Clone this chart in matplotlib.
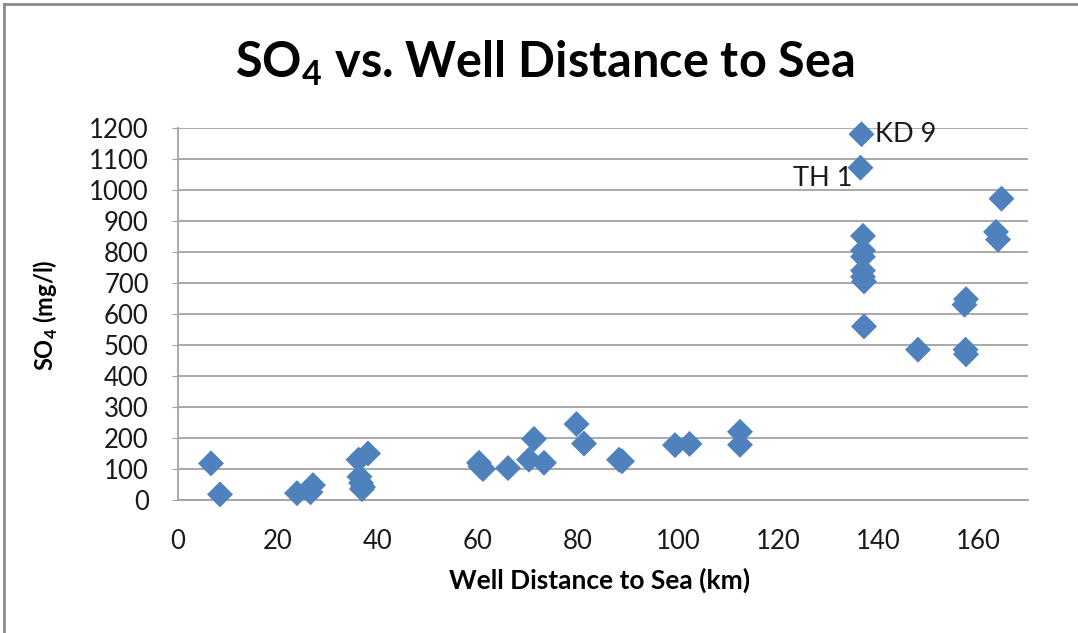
import matplotlib
matplotlib.use('Agg')
import matplotlib.pyplot as plt
from matplotlib.lines import Line2D

# well distance to sea (km) and sulfate concentration (mg/l)
distance_km = [6.6, 8.4, 23.8, 26.5, 27.0, 36.1, 38.0, 36.3, 36.6, 37.0, 36.8,
               60.2, 60.5, 61.0, 66.0, 70.2, 71.2, 73.2, 79.7, 81.2, 88.2, 88.8,
               99.4, 102.3, 112.4, 112.4,
               136.7, 136.5, 137.0, 137.0, 137.0, 137.0, 137.0, 137.2, 137.2,
               148.0, 157.3, 157.6, 157.5, 157.6, 164.7, 163.6, 164.0]
so4_mgl = [118, 18, 22, 25, 48, 130, 150, 75, 55, 42, 35,
           120, 108, 100, 103, 130, 197, 120, 245, 182, 130, 125,
           177, 181, 220, 178,
           1180, 1072, 852, 805, 785, 740, 720, 705, 560,
           485, 630, 648, 485, 470, 972, 865, 840]

# labelled wells
label_names = ['KD 9', 'TH 1']
label_x = [136.7, 136.5]
label_y = [1180, 1072]

x_ticks = list(range(0, 161, 20))
y_ticks = list(range(0, 1201, 100))

font = 'Lato'
plt.rcParams['font.family'] = [font, 'DejaVu Sans']
plt.rcParams['mathtext.fontset'] = 'custom'
plt.rcParams['mathtext.rm'] = font
plt.rcParams['mathtext.bf'] = font + ':bold'

grid_gray = '#a3a3a3'
text_color = '#1a1a1a'

fig = plt.figure(figsize=(10.78, 6.33), dpi=100)
ax = fig.add_axes([178 / 1078, 1 - 500 / 633, 850 / 1078, 372 / 633])

ax.scatter(distance_km, so4_mgl, marker='D', s=175, color='#4f81bd',
           edgecolors='none', zorder=3, clip_on=False)

# point labels
ax.annotate(label_names[0], (label_x[0], label_y[0]), xytext=(10, 0),
            textcoords='offset points', ha='left', va='center',
            fontsize=19.5, color=text_color)
ax.annotate(label_names[1], (label_x[1], label_y[1]), xytext=(-6, -8),
            textcoords='offset points', ha='right', va='center',
            fontsize=19.5, color=text_color)

ax.set_xlim(0, 170)
ax.set_ylim(0, 1200)
ax.set_xticks(x_ticks)
ax.set_yticks(y_ticks)
ax.grid(axis='y', color=grid_gray, linewidth=1.3)
ax.set_axisbelow(True)

for side in ['top', 'right']:
    ax.spines[side].set_visible(False)
for side in ['left', 'bottom']:
    ax.spines[side].set_color(grid_gray)
    ax.spines[side].set_linewidth(1.3)

ax.tick_params(axis='y', length=4, color=grid_gray, pad=17, labelsize=18.5,
               labelcolor=text_color)
ax.tick_params(axis='x', length=0, pad=21, labelsize=18.5, labelcolor=text_color)

ax.set_xlabel('Well Distance to Sea (km)', fontsize=19, fontweight='bold')
ax.xaxis.set_label_coords(0.4965, -0.183)
ax.set_ylabel(r'SO$_\mathbf{4}$ (mg/l)', fontsize=17, fontweight='bold')
ax.yaxis.set_label_coords(-0.139, 0.497)

fig.text(545 / 1078, 1 - 63 / 633, r'SO$_\mathbf{4}$ vs. Well Distance to Sea',
         ha='center', va='center', fontsize=35, fontweight='bold')

# chart frame edges
fig.add_artist(Line2D([4 / 1078, 1], [1 - 4 / 633, 1 - 4 / 633],
                      color='#8a8a8a', linewidth=2, transform=fig.transFigure))
fig.add_artist(Line2D([4 / 1078, 4 / 1078], [0, 1 - 4 / 633],
                      color='#8a8a8a', linewidth=2, transform=fig.transFigure))

fig.savefig('out.png', dpi=100)
